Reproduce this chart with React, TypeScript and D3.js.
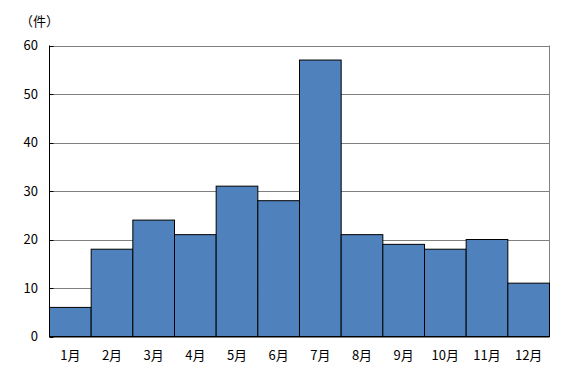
import React from "react";
import * as d3 from "d3";

const categories = ["1月","2月","3月","4月","5月","6月","7月","8月","9月","10月","11月","12月"];
const values = [6,18,24,21,31,28,57,21,19,18,20,11];
const yTicks = [0,10,20,30,40,50,60];
const unitLabel = "（件）";

export default function App() {
  const W = 567, H = 378;
  const left = 49.5, right = 549.5, top = 45.5, bottom = 336.5;
  const x = d3.scaleBand().domain(categories).range([left, right]).padding(0);
  const y = d3.scaleLinear().domain([0, 60]).range([bottom, top]);
  const font = "'Noto Sans CJK JP', 'DejaVu Sans', sans-serif";
  return (
    <svg width={W} height={H} style={{ position: "absolute", left: 0, top: 0 }}>
      <rect x={0} y={0} width={W} height={H} fill="#fff" />
      {yTicks.map(t => (
        <line key={"g"+t} x1={left} x2={right} y1={Math.round(y(t))+0.5} y2={Math.round(y(t))+0.5} stroke="#808080" strokeWidth={1} />
      ))}
      <line x1={right} x2={right} y1={top} y2={bottom} stroke="#808080" />
      {values.map((v, i) => (
        <rect key={i} x={x(categories[i])!} y={y(v)} width={x.bandwidth()} height={bottom - y(v)}
          fill="#4F81BD" stroke="#000" strokeWidth={1} />
      ))}
      <line x1={left} x2={left} y1={top} y2={bottom} stroke="#000" />
      <line x1={left} x2={right} y1={bottom} y2={bottom} stroke="#000" />
      {yTicks.map(t => (
        <g key={"t"+t}>
          <line x1={left} x2={left+4} y1={Math.round(y(t))+0.5} y2={Math.round(y(t))+0.5} stroke="#000" />
          <text x={38} y={y(t)} dy="0.35em" textAnchor="end" fontSize={13} fontFamily={font}>{t}</text>
        </g>
      ))}
      {categories.map(c => (
        <text key={c} x={x(c)! + x.bandwidth()/2} y={355} dy="0.35em" textAnchor="middle" fontSize={13} fontFamily={font}>{c}</text>
      ))}
      <text x={20} y={21} dy="0.35em" fontSize={13} fontFamily={font}>{unitLabel}</text>
    </svg>
  );
}
